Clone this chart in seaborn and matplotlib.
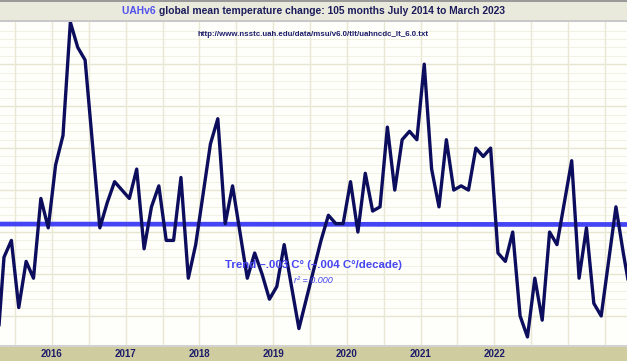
import numpy as np
import pandas as pd
import seaborn as sns
import matplotlib.pyplot as plt
from matplotlib.patches import Rectangle

# monthly anomalies (deg C), one per month, first visible month first
anomaly = [-0.10,
           0.14, 0.18, 0.02, 0.13, 0.09, 0.28, 0.21, 0.36, 0.43, 0.70,
           0.64, 0.61, 0.41, 0.21, 0.27, 0.32, 0.30, 0.28, 0.35, 0.16,
           0.26, 0.31, 0.18, 0.18, 0.33, 0.09, 0.17, 0.29, 0.41, 0.47,
           0.22, 0.31, 0.20, 0.09, 0.15, 0.10, 0.04, 0.07, 0.17, 0.07,
           -0.03, 0.04, 0.11, 0.18, 0.24, 0.22, 0.22, 0.32, 0.20, 0.34,
           0.25, 0.26, 0.45, 0.30, 0.42, 0.44, 0.42, 0.60, 0.35, 0.26,
           0.42, 0.30, 0.31, 0.30, 0.40, 0.38, 0.40, 0.15, 0.13, 0.20,
           0.00, -0.05, 0.09, -0.01, 0.20, 0.17, 0.27, 0.37, 0.09, 0.21,
           0.03, 0.00, 0.13, 0.26, 0.15, 0.05]
month = list(range(-1, len(anomaly) - 1))
trend = [0.219, 0.218]
year_labels = ['2016', '2017', '2018', '2019', '2020', '2021', '2022']

df = pd.DataFrame({'month': month, 'anomaly': anomaly})

sns.set_style('white')
plt.rcParams['font.family'] = ['Liberation Sans', 'DejaVu Sans']

W, H = 627, 361
fig = plt.figure(figsize=(W / 100, H / 100), dpi=100)
fig.patch.set_facecolor('#ffffff')

# bands (title strip on top, year strip at bottom)
fig.patches.append(Rectangle((0, 1 - 21 / H), 1, 21 / H, transform=fig.transFigure,
                             facecolor='#e9e9dc', edgecolor='none', zorder=0))
fig.patches.append(Rectangle((0, 1 - 1.5 / H), 1, 1.5 / H, transform=fig.transFigure,
                             facecolor='#9a9a9a', edgecolor='none', zorder=1))
fig.patches.append(Rectangle((0, 1 - 22 / H), 1, 2 / H, transform=fig.transFigure,
                             facecolor='#c8c8c8', edgecolor='none', zorder=1))
fig.patches.append(Rectangle((0, 0), 1, 14 / H, transform=fig.transFigure,
                             facecolor='#cfcca0', edgecolor='none', zorder=0))
fig.patches.append(Rectangle((0, 14 / H), 1, 2.5 / H, transform=fig.transFigure,
                             facecolor='#d2d2d2', edgecolor='none', zorder=1))

ax = fig.add_axes([0, 16.5 / H, 1, (345 - 22) / H])
ax.set_facecolor('#fefefa')

x0, x1 = -0.5425, 84.5
y0, y1 = -0.068, 0.7017
ax.set_xlim(x0, x1)
ax.set_ylim(y0, y1)

# grid
for v in np.arange(0, 0.7, 0.02):
    major = abs(v / 0.1 - round(v / 0.1)) < 1e-6
    ax.axhline(v, color='#e6e6d0' if major else '#f1f1e4', lw=1.0 if major else 0.7, zorder=1)
for m in np.arange(1.5, x1, 5):
    ax.axvline(m, color='#e8e8d4', lw=1.0, zorder=1)

ax.plot([x0, x1], trend, color='#3b3bf5', lw=3.4, alpha=0.95, zorder=2, solid_capstyle='butt')
sns.lineplot(data=df, x='month', y='anomaly', ax=ax, color='#0d0d5e', lw=2.4, zorder=3)

for s in ax.spines.values():
    s.set_visible(False)
ax.set_xticks([])
ax.set_yticks([])
ax.set_xlabel('')
ax.set_ylabel('')

# year labels under the plot
for k, lab in enumerate(year_labels):
    xm = 6.5 + 10 * k
    xf = (xm - x0) / (x1 - x0)
    fig.text(xf, 7 / H, lab, ha='center', va='center', fontsize=7,
             fontweight='bold', color='#1c1c6a')

# title, first word in lighter blue
fs = 7.4
ty = 1 - 10.5 / H
rest = 'global mean temperature change: 105 months July 2014 to March 2023'
r = fig.canvas.get_renderer()
tt = fig.text(0.5, ty, 'UAHv6 ' + rest, ha='center', va='center', fontsize=fs, fontweight='bold')
bb = tt.get_window_extent(r)
tt.remove()
t1 = fig.text(bb.x0 / W, ty, 'UAHv6 ', ha='left', va='center', fontsize=fs,
              fontweight='bold', color='#5050ee')
b1 = t1.get_window_extent(r)
fig.text(b1.x1 / W, ty, rest, ha='left', va='center', fontsize=fs,
         fontweight='bold', color='#1c1c5c')

ax.text(0.5, 1 - 13 / 323, 'http://www.nsstc.uah.edu/data/msu/v6.0/tlt/uahncdc_lt_6.0.txt',
        transform=ax.transAxes, ha='center', va='center', fontsize=5.7,
        fontweight='bold', color='#1c1c6a', zorder=4)

ax.text(0.4995, 1 - 243 / 323, 'Trend \u2013.003 C\u00b0 (\u2013.004 C\u00b0/decade)',
        transform=ax.transAxes, ha='center', va='center', fontsize=8.2,
        fontweight='bold', color='#4646f2', zorder=4)
ax.text(0.5, 1 - 259 / 323, 'r\u00b2 = 0.000', transform=ax.transAxes, ha='center',
        va='center', fontsize=6.5, style='italic', color='#4646f2', zorder=4)

fig.savefig('out.png', dpi=100)
